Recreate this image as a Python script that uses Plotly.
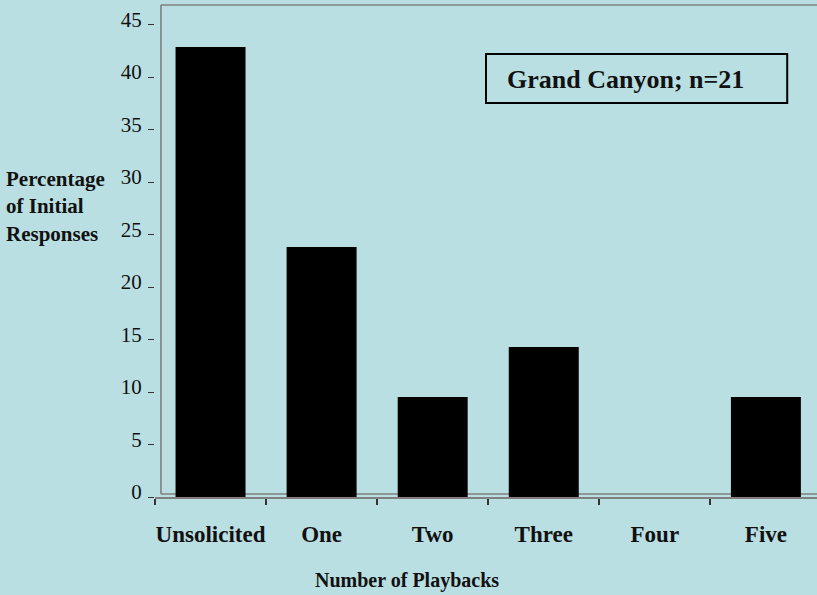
import plotly.graph_objects as go

# data (Grand Canyon, n=21)
categories = ["Unsolicited", "One", "Two", "Three", "Four", "Five"]
percentages = [42.86, 23.81, 9.52, 14.29, 0.0, 9.52]
y_ticks = [0, 5, 10, 15, 20, 25, 30, 35, 40, 45]

bg = "#B9DFE2"
serif = "Liberation Serif, Times New Roman, serif"

fig = go.Figure()

# bars
fig.add_trace(go.Bar(
    x=categories,
    y=percentages,
    width=0.63,
    marker=dict(color="black", line=dict(width=0)),
    showlegend=False,
))

# plot box (grey frame slightly offset from the axes, as in the original)
box = dict(type="line", xref="paper", yref="paper", layer="below",
           line=dict(color="#808080", width=1.6))
fig.add_shape(**box, x0=0.009, x1=0.009, y0=0.006, y1=1.0)
fig.add_shape(**box, x0=0.009, x1=1.0, y0=0.006, y1=0.006)
fig.add_shape(**box, x0=0.009, x1=1.0, y0=1.0, y1=1.0)

# label box
fig.add_shape(type="rect", xref="paper", yref="paper",
              x0=0.5, x1=0.955, y0=0.8008, y1=0.9004,
              line=dict(color="black", width=2), fillcolor=bg)
fig.add_annotation(text="<b>Grand Canyon; n=21</b>", xref="paper", yref="paper",
                   x=0.711, y=0.848, xanchor="center", yanchor="middle",
                   showarrow=False,
                   font=dict(family=serif, size=26, color="#111111"))

# axis titles
fig.add_annotation(text="<b>Percentage<br>of Initial<br>Responses</b>",
                   xref="paper", yref="paper", x=-0.228, y=0.591,
                   xanchor="left", yanchor="middle", align="left", showarrow=False,
                   font=dict(family=serif, size=21, color="#111111"))
fig.add_annotation(text="<b>Number of Playbacks</b>", xref="paper", yref="paper",
                   x=0.381, y=-0.169, xanchor="center", yanchor="middle",
                   showarrow=False,
                   font=dict(family=serif, size=20, color="#111111"))

fig.update_layout(
    width=817, height=595,
    margin=dict(l=155, r=0, t=5, b=98),
    paper_bgcolor=bg, plot_bgcolor=bg,
    xaxis=dict(
        type="category",
        range=[-0.5, 5.46],
        tickson="boundaries",
        tickangle=0,
        ticks="outside", ticklen=6, tickcolor="#333333", tickwidth=1.5,
        showline=True, linecolor="#808080", linewidth=1.5,
        showgrid=False, zeroline=False,
        ticklabelstandoff=16,
        tickfont=dict(family=serif, size=23, color="#111111", weight="bold"),
    ),
    yaxis=dict(
        range=[0, 46.86],
        tickmode="array",
        tickvals=y_ticks,
        ticks="outside", ticklen=6, tickcolor="#333333", tickwidth=1.2,
        showline=False, showgrid=False, zeroline=False,
        ticklabelshift=-5,
        ticklabelstandoff=2,
        tickfont=dict(family=serif, size=21, color="#111111"),
    ),
)

fig.write_html("out.html", config={"displayModeBar": False},
               post_script="document.body.style.margin='0';")
